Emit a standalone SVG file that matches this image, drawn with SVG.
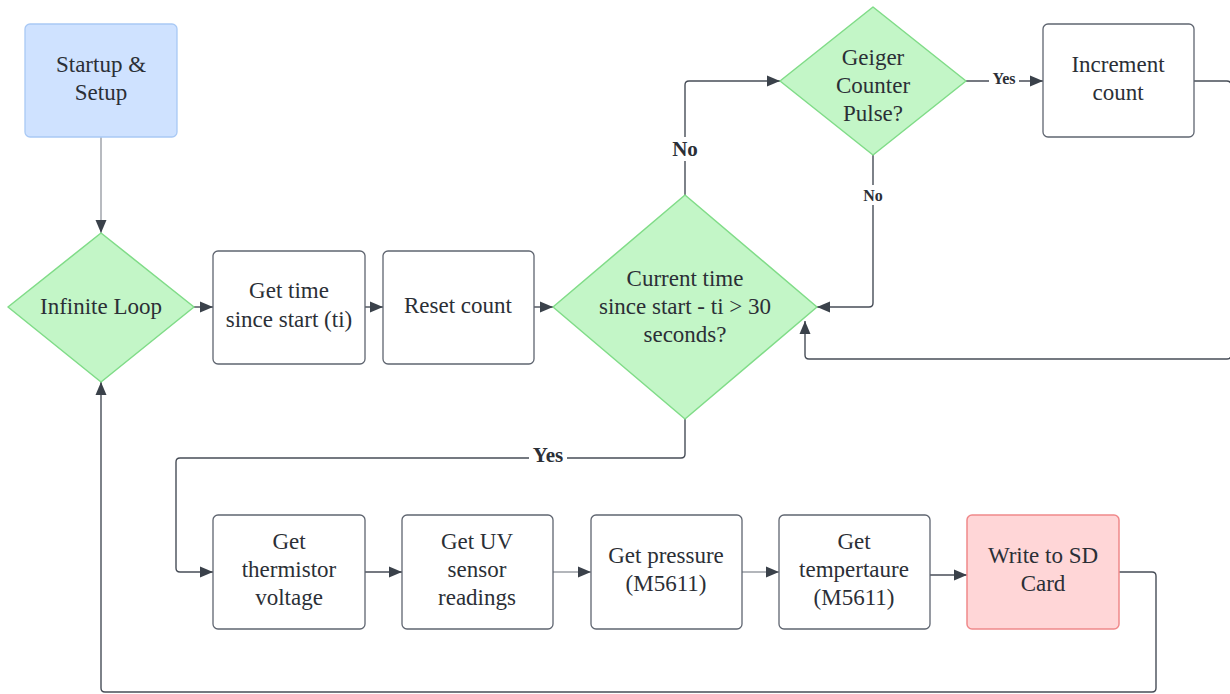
<svg xmlns="http://www.w3.org/2000/svg" width="1230" height="694" viewBox="0 0 1230 694">
<defs>
<marker id="arr" markerUnits="userSpaceOnUse" markerWidth="14" markerHeight="12" refX="13" refY="6" orient="auto">
<path d="M0,0.5 L13,6 L0,11.5 z" fill="#3a414a"/>
</marker>
<style>
.box{fill:#ffffff;stroke:#5f6570;stroke-width:1.3}
.start{fill:#cfe2ff;stroke:#a9c9f5;stroke-width:1.3}
.dec{fill:#c3f6c7;stroke:#80dc88;stroke-width:1.5;stroke-linejoin:round}
.sd{fill:#ffd6d7;stroke:#f0898b;stroke-width:1.5}
.t{font-family:'Liberation Serif',serif;font-size:23px;fill:#2b2f36;text-anchor:middle}
.lbl{font-family:'Liberation Serif',serif;font-weight:bold;fill:#2b2f36;text-anchor:middle}
.c{fill:none;stroke:#474d57;stroke-width:1.4}
.cl{fill:none;stroke:#9a9ea5;stroke-width:1.4}
</style>
</defs>
<rect width="1230" height="694" fill="#ffffff"/>
<g id="connectors">
<path class="cl" d="M101,137 V233" marker-end="url(#arr)"/>
<path class="c" d="M194,307 H213" marker-end="url(#arr)"/>
<path class="c" d="M365,307 H383" marker-end="url(#arr)"/>
<path class="c" d="M534,307 H553" marker-end="url(#arr)"/>
<path class="c" d="M685,195 V85 Q685,81 689,81 H780" marker-end="url(#arr)"/>
<path class="c" d="M966,81 H1043" marker-end="url(#arr)"/>
<path class="c" d="M873,155 V303 Q873,307 869,307 H817" marker-end="url(#arr)"/>
<path class="c" d="M1194,81 H1227 Q1231,81 1231,85 V355 Q1231,359 1227,359 H809 Q805,359 805,355 V321" marker-end="url(#arr)"/>
<path class="c" d="M685,419 V454 Q685,458 681,458 H180 Q176,458 176,462 V568 Q176,572 180,572 H213" marker-end="url(#arr)"/>
<path class="c" d="M365,572 H402" marker-end="url(#arr)"/>
<path class="cl" d="M553,572 H591" marker-end="url(#arr)"/>
<path class="cl" d="M742,572 H779" marker-end="url(#arr)"/>
<path class="c" d="M930,575 H967" marker-end="url(#arr)"/>
<path class="c" d="M1119,572 H1152 Q1156,572 1156,576 V688 Q1156,692 1152,692 H105 Q101,692 101,688 V382" marker-end="url(#arr)"/>
<rect x="668" y="137" width="34" height="24" fill="#ffffff"/>
<text class="lbl" x="685" y="156" font-size="21">No</text>
<rect x="989" y="70" width="30" height="18" fill="#ffffff"/>
<text class="lbl" x="1004" y="84" font-size="16">Yes</text>
<rect x="859" y="185" width="28" height="20" fill="#ffffff"/>
<text class="lbl" x="873" y="201" font-size="16">No</text>
<rect x="529" y="446" width="38" height="22" fill="#ffffff"/>
<text class="lbl" x="548" y="462" font-size="21">Yes</text>
</g>
<g id="startup">
<rect class="start" x="25" y="24" width="152" height="113" rx="5"/>
<text class="t" x="101" y="72">Startup &amp;</text>
<text class="t" x="101" y="100">Setup</text>
</g>
<g id="infinite-loop">
<polygon class="dec" points="101,233 194,307 101,382 8,307"/>
<text class="t" x="101" y="314">Infinite Loop</text>
</g>
<g id="get-time">
<rect class="box" x="213" y="251" width="152" height="113" rx="5"/>
<text class="t" x="289" y="298">Get time</text>
<text class="t" x="289" y="327">since start (ti)</text>
</g>
<g id="reset-count">
<rect class="box" x="383" y="251" width="151" height="113" rx="5"/>
<text class="t" x="458" y="313">Reset count</text>
</g>
<g id="current-time">
<polygon class="dec" points="685,195 817,307 685,419 553,307"/>
<text class="t" x="685" y="286">Current time</text>
<text class="t" x="685" y="314">since start - ti &gt; 30</text>
<text class="t" x="685" y="342">seconds?</text>
</g>
<g id="geiger">
<polygon class="dec" points="873,7 966,81 873,155 780,81"/>
<text class="t" x="873" y="65">Geiger</text>
<text class="t" x="873" y="93">Counter</text>
<text class="t" x="873" y="121">Pulse?</text>
</g>
<g id="increment">
<rect class="box" x="1043" y="24" width="151" height="113" rx="5"/>
<text class="t" x="1118" y="72">Increment</text>
<text class="t" x="1118" y="100">count</text>
</g>
<g id="thermistor">
<rect class="box" x="213" y="515" width="152" height="114" rx="5"/>
<text class="t" x="289" y="549">Get</text>
<text class="t" x="289" y="577">thermistor</text>
<text class="t" x="289" y="605">voltage</text>
</g>
<g id="uv">
<rect class="box" x="402" y="515" width="151" height="114" rx="5"/>
<text class="t" x="477" y="549">Get UV</text>
<text class="t" x="477" y="577">sensor</text>
<text class="t" x="477" y="605">readings</text>
</g>
<g id="pressure">
<rect class="box" x="591" y="515" width="151" height="114" rx="5"/>
<text class="t" x="666" y="563">Get pressure</text>
<text class="t" x="666" y="591">(M5611)</text>
</g>
<g id="temperature">
<rect class="box" x="779" y="515" width="151" height="114" rx="5"/>
<text class="t" x="854" y="549">Get</text>
<text class="t" x="854" y="577">tempertaure</text>
<text class="t" x="854" y="605">(M5611)</text>
</g>
<g id="sd-card">
<rect class="sd" x="967" y="515" width="152" height="114" rx="5"/>
<text class="t" x="1043" y="563">Write to SD</text>
<text class="t" x="1043" y="591">Card</text>
</g>
</svg>
